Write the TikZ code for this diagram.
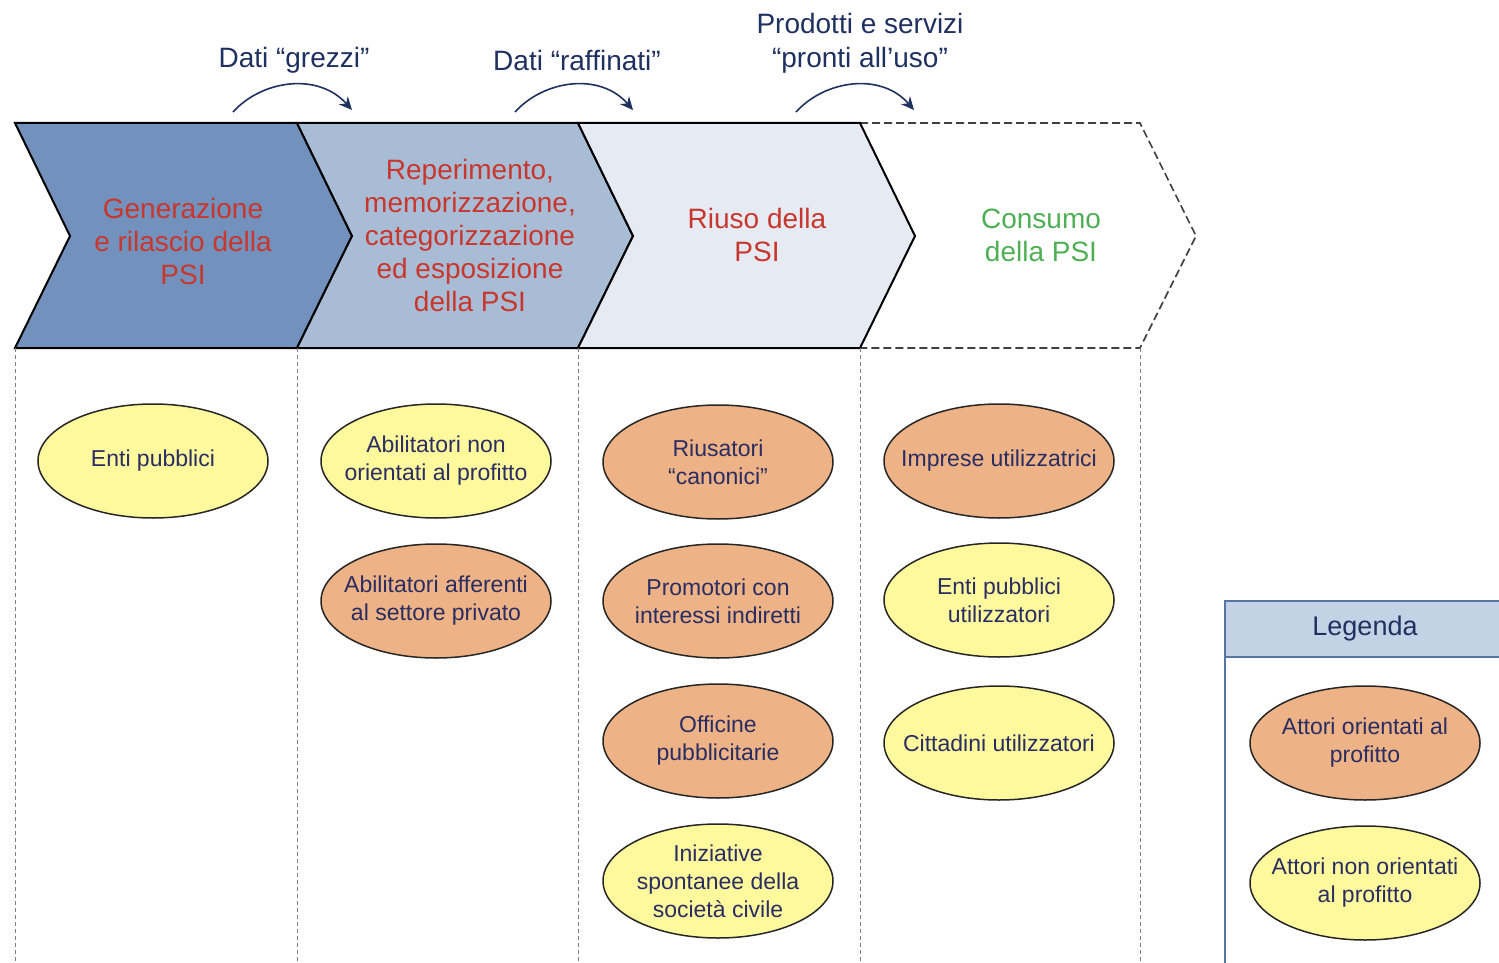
\documentclass[tikz,border=0pt]{standalone}
\usepackage{fontspec}
\setmainfont{Liberation Sans}
\usetikzlibrary{shapes.geometric,arrows.meta}
\definecolor{psired}{HTML}{C8372D}
\definecolor{psigreen}{HTML}{4FAF55}
\definecolor{inknavy}{HTML}{2A2D62}
\definecolor{flownavy}{HTML}{1F3160}
\definecolor{chevdark}{HTML}{7291BC}
\definecolor{chevmid}{HTML}{A9BCD5}
\definecolor{chevlight}{HTML}{E5EAF3}
\definecolor{profitorange}{HTML}{EDB285}
\definecolor{nonprofityellow}{HTML}{FFF99E}
\definecolor{legendhead}{HTML}{C4D2E5}
\definecolor{legendblue}{HTML}{5676A2}

\begin{document}
\begin{tikzpicture}[x=0.5pt, y=-0.5pt,
        phase/.style={align=center, font=\fontsize{14}{16.5}\selectfont, text=psired},
        flowlabel/.style={align=center, font=\fontsize{14}{17}\selectfont, text=flownavy},
        actor/.style={ellipse, draw=black!85, line width=0.75pt, minimum width=115pt, minimum height=57pt, inner xsep=-16pt, inner ysep=0pt, align=center, font=\fontsize{11.5}{14}\selectfont, text=inknavy},
        profit/.style={actor, fill=profitorange},
        nonprofit/.style={actor, fill=nonprofityellow},
        flow/.style={-{Stealth[length=6.5pt, width=6pt]}, draw=flownavy, line width=0.8pt},
        sep/.style={draw=black!50, line width=0.5pt, dash pattern=on 2pt off 1.5pt}]
        \useasboundingbox (0, 0) rectangle (1499, 963);
        \draw[draw=black!75, line width=0.8pt, dash pattern=on 4pt off 2pt] (860, 123) -- (1140, 123) -- (1196, 236) -- (1140, 348) -- (860, 348);
        \draw[fill=chevdark, line width=1pt] (15, 123) -- (297, 123) -- (352, 236) -- (297, 348) -- (15, 348) -- (70, 236) -- cycle;
        \draw[fill=chevmid, line width=1pt] (297, 123) -- (578, 123) -- (633, 236) -- (578, 348) -- (297, 348) -- (352, 236) -- cycle;
        \draw[fill=chevlight, line width=1pt] (578, 123) -- (860, 123) -- (915, 236) -- (860, 348) -- (578, 348) -- (633, 236) -- cycle;
        \draw[sep] (15, 348) -- (15, 963);
        \draw[sep] (297, 348) -- (297, 963);
        \draw[sep] (578, 348) -- (578, 963);
        \draw[sep] (860, 348) -- (860, 963);
        \draw[sep] (1140, 348) -- (1140, 963);
        \node[phase] (generazione) at (183, 241) {Generazione\\e rilascio della\\PSI};
        \node[phase] (reperimento) at (470, 235) {Reperimento,\\memorizzazione,\\categorizzazione\\ed esposizione\\della PSI};
        \node[phase] (riuso) at (757, 235) {Riuso della\\PSI};
        \node[phase, text=psigreen] (consumo) at (1041, 235) {Consumo\\della PSI};
        \node[flowlabel] (grezzi) at (294, 60) {Dati “grezzi”};
        \node[flowlabel] (raffinati) at (577, 60) {Dati “raffinati”};
        \node[flowlabel] (prodotti) at (860, 43) {Prodotti e servizi\\“pronti all’uso”};
        \node[coordinate] (grezzia) at (233, 112) {};
        \node[coordinate] (grezzib) at (352, 110) {};
        \node[coordinate] (raffinatia) at (515, 112) {};
        \node[coordinate] (raffinatib) at (633, 110) {};
        \node[coordinate] (prodottia) at (796, 112) {};
        \node[coordinate] (prodottib) at (914, 110) {};
        \draw[flow] (grezzia) .. controls (262, 80) and (318, 72) .. (grezzib);
        \draw[flow] (raffinatia) .. controls (544, 80) and (600, 72) .. (raffinatib);
        \draw[flow] (prodottia) .. controls (825, 80) and (881, 72) .. (prodottib);
        \node[nonprofit] (enti) at (153, 461) {Enti pubblici};
        \node[nonprofit] (abilnp) at (436, 461) {Abilitatori non\\orientati al profitto};
        \node[profit] (abilpriv) at (436, 601) {Abilitatori afferenti\\al settore privato};
        \node[profit] (riusatori) at (718, 462) {Riusatori\\“canonici”};
        \node[profit] (promotori) at (718, 601) {Promotori con\\interessi indiretti};
        \node[profit] (officine) at (718, 741) {Officine\\pubblicitarie};
        \node[nonprofit] (iniziative) at (718, 881) {Iniziative\\spontanee della\\società civile};
        \node[profit] (imprese) at (999, 461) {Imprese utilizzatrici};
        \node[nonprofit] (entiutil) at (999, 600) {Enti pubblici\\utilizzatori};
        \node[nonprofit] (cittadini) at (999, 743) {Cittadini utilizzatori};
        \fill[legendhead] (1225, 601) rectangle (1510, 657);
        \draw[draw=legendblue, line width=1pt] (1510, 601) -- (1225, 601) -- (1225, 975);
        \draw[draw=legendblue, line width=1pt] (1225, 657) -- (1510, 657);
        \node[flowlabel, font=\fontsize{13.5}{16}\selectfont] (legenda) at (1365, 629) {Legenda};
        \node[profit] (legprofit) at (1365, 743) {Attori orientati al\\profitto};
        \node[nonprofit] (legnonprofit) at (1365, 883) {Attori non orientati\\al profitto};
    \end{tikzpicture}
\end{document}
